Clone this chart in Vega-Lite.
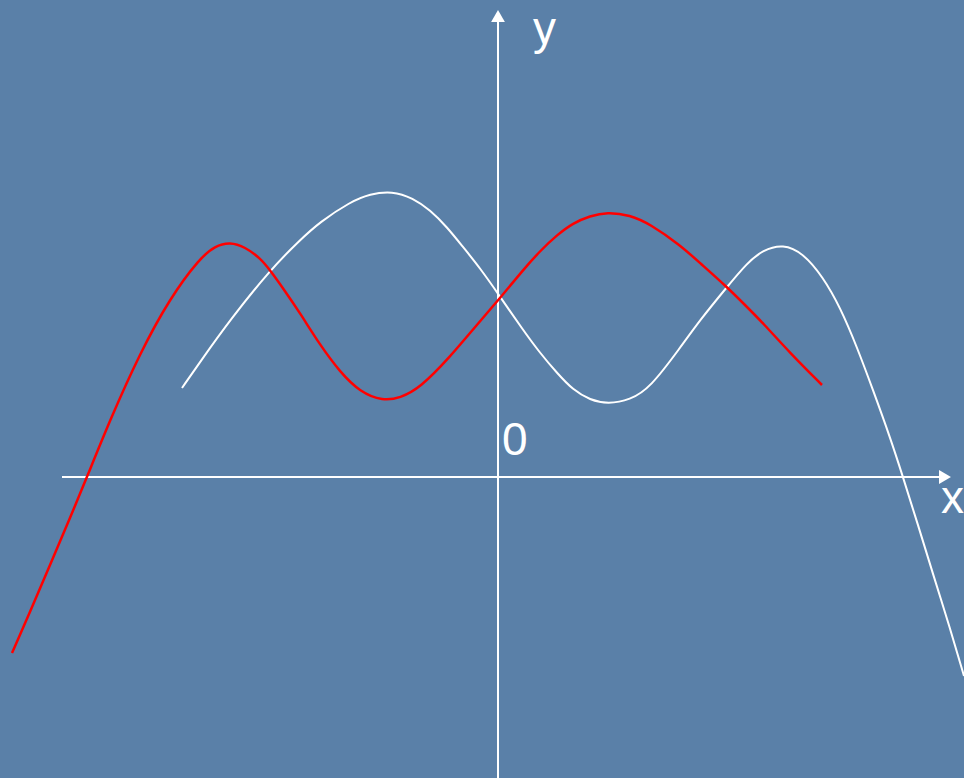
{
  "$schema": "https://vega.github.io/schema/vega-lite/v6.json",
  "width": 964,
  "height": 778,
  "autosize": {"type": "none"},
  "padding": 0,
  "background": "#5a80a8",
  "config": {"view": {"stroke": null}},
  "datasets": {
    "curves": [
      {"series": "white", "x": -316, "y": 89},
      {"series": "white", "x": -298, "y": 115},
      {"series": "white", "x": -268, "y": 157},
      {"series": "white", "x": -228, "y": 207},
      {"series": "white", "x": -198, "y": 237},
      {"series": "white", "x": -178, "y": 255},
      {"series": "white", "x": -148, "y": 275},
      {"series": "white", "x": -128, "y": 283},
      {"series": "white", "x": -106, "y": 286},
      {"series": "white", "x": -85, "y": 279},
      {"series": "white", "x": -68, "y": 267},
      {"series": "white", "x": -51, "y": 250},
      {"series": "white", "x": -35, "y": 230},
      {"series": "white", "x": -18, "y": 209},
      {"series": "white", "x": 1, "y": 182},
      {"series": "white", "x": 25, "y": 147},
      {"series": "white", "x": 42, "y": 124},
      {"series": "white", "x": 59, "y": 104},
      {"series": "white", "x": 75, "y": 87},
      {"series": "white", "x": 92, "y": 77},
      {"series": "white", "x": 110, "y": 73},
      {"series": "white", "x": 132, "y": 77},
      {"series": "white", "x": 152, "y": 89},
      {"series": "white", "x": 182, "y": 129},
      {"series": "white", "x": 202, "y": 157},
      {"series": "white", "x": 229, "y": 190},
      {"series": "white", "x": 249, "y": 214},
      {"series": "white", "x": 265, "y": 227},
      {"series": "white", "x": 285, "y": 233},
      {"series": "white", "x": 305, "y": 224},
      {"series": "white", "x": 325, "y": 200},
      {"series": "white", "x": 342, "y": 170},
      {"series": "white", "x": 359, "y": 130},
      {"series": "white", "x": 375, "y": 87},
      {"series": "white", "x": 392, "y": 40},
      {"series": "white", "x": 405, "y": 0},
      {"series": "white", "x": 420, "y": -48},
      {"series": "white", "x": 435, "y": -97},
      {"series": "white", "x": 452, "y": -151},
      {"series": "white", "x": 466, "y": -199},
      {"series": "red", "x": -486, "y": -176},
      {"series": "red", "x": -468, "y": -135},
      {"series": "red", "x": -448, "y": -88},
      {"series": "red", "x": -428, "y": -41},
      {"series": "red", "x": -411, "y": 0},
      {"series": "red", "x": -388, "y": 57},
      {"series": "red", "x": -358, "y": 124},
      {"series": "red", "x": -328, "y": 179},
      {"series": "red", "x": -298, "y": 219},
      {"series": "red", "x": -283, "y": 231},
      {"series": "red", "x": -268, "y": 235},
      {"series": "red", "x": -253, "y": 230},
      {"series": "red", "x": -238, "y": 219},
      {"series": "red", "x": -228, "y": 207},
      {"series": "red", "x": -213, "y": 186},
      {"series": "red", "x": -198, "y": 164},
      {"series": "red", "x": -178, "y": 132},
      {"series": "red", "x": -158, "y": 105},
      {"series": "red", "x": -138, "y": 85},
      {"series": "red", "x": -115, "y": 76},
      {"series": "red", "x": -98, "y": 79},
      {"series": "red", "x": -78, "y": 89},
      {"series": "red", "x": -48, "y": 120},
      {"series": "red", "x": -23, "y": 150},
      {"series": "red", "x": 3, "y": 180},
      {"series": "red", "x": 25, "y": 207},
      {"series": "red", "x": 42, "y": 226},
      {"series": "red", "x": 59, "y": 242},
      {"series": "red", "x": 75, "y": 254},
      {"series": "red", "x": 92, "y": 261},
      {"series": "red", "x": 109, "y": 265},
      {"series": "red", "x": 132, "y": 262},
      {"series": "red", "x": 152, "y": 253},
      {"series": "red", "x": 182, "y": 232},
      {"series": "red", "x": 202, "y": 214},
      {"series": "red", "x": 229, "y": 190},
      {"series": "red", "x": 247, "y": 172},
      {"series": "red", "x": 265, "y": 154},
      {"series": "red", "x": 292, "y": 124},
      {"series": "red", "x": 324, "y": 92}
    ],
    "axes": [
      {"x": -436, "x2": 446, "y": 0, "y2": 0},
      {"x": 0, "x2": 0, "y": -301, "y2": 461}
    ],
    "arrows": [
      {"x": 447, "y": 0, "shape": "triangle-right"},
      {"x": 0, "y": 461, "shape": "triangle-up"}
    ],
    "labels": [
      {"x": 35, "y": 433, "label": "y"},
      {"x": 4, "y": 22, "label": "0"},
      {"x": 443, "y": -36, "label": "x"}
    ]
  },
  "layer": [
    {
      "data": {"name": "axes"},
      "mark": {"type": "rule", "color": "white", "strokeWidth": 2},
      "encoding": {
        "x": {"field": "x", "type": "quantitative", "scale": {"domain": [-498, 466], "nice": false, "zero": false}, "axis": null},
        "x2": {"field": "x2"},
        "y": {"field": "y", "type": "quantitative", "scale": {"domain": [-301, 477], "nice": false, "zero": false}, "axis": null},
        "y2": {"field": "y2"}
      }
    },
    {
      "data": {"name": "arrows"},
      "mark": {"type": "point", "filled": true, "color": "white", "opacity": 1, "size": 190},
      "encoding": {
        "x": {"field": "x", "type": "quantitative"},
        "y": {"field": "y", "type": "quantitative"},
        "shape": {"field": "shape", "type": "nominal", "scale": null, "legend": null}
      }
    },
    {
      "data": {"name": "curves"},
      "mark": {"type": "line", "interpolate": "basis"},
      "encoding": {
        "x": {"field": "x", "type": "quantitative"},
        "y": {"field": "y", "type": "quantitative"},
        "detail": {"field": "series"},
        "color": {"field": "series", "type": "nominal", "scale": {"domain": ["white", "red"], "range": ["#ffffff", "#ff0000"]}, "legend": null},
        "strokeWidth": {"field": "series", "type": "nominal", "scale": {"domain": ["white", "red"], "range": [2, 2.5]}, "legend": null},
        "order": {"field": "x", "type": "quantitative"}
      }
    },
    {
      "data": {"name": "labels"},
      "mark": {"type": "text", "color": "white", "font": "Liberation Sans", "fontSize": 46, "align": "left", "baseline": "alphabetic"},
      "encoding": {
        "x": {"field": "x", "type": "quantitative"},
        "y": {"field": "y", "type": "quantitative"},
        "text": {"field": "label"}
      }
    }
  ]
}
